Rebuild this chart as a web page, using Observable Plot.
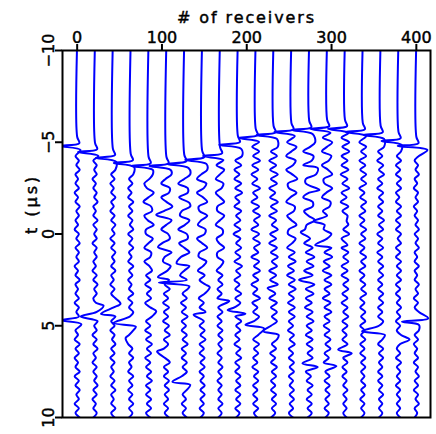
<!DOCTYPE html>
<html><head><meta charset="utf-8">
<script src="https://cdn.jsdelivr.net/npm/d3@7"></script>
<script src="https://cdn.jsdelivr.net/npm/@observablehq/plot@0.6"></script>
<style>html,body{margin:0;padding:0;background:#fff}#chart{position:absolute;left:0;top:0}</style>
</head><body><div id="chart"></div>
<script>
// receiver positions of the 20 traces
const receivers = [0,21.05,42.11,63.16,84.21,105.26,126.32,147.37,168.42,189.47,210.53,231.58,252.63,273.68,294.74,315.79,336.84,357.89,378.95,400];
// first-arrival time (μs) of each trace
const arrivals = [-4.80,-4.47,-4.15,-3.87,-3.71,-3.71,-3.82,-4.04,-4.25,-4.86,-5.24,-5.40,-5.56,-5.67,-5.73,-5.73,-5.56,-5.40,-5.07,-4.80];
// left-spike amplitude of the first arrival (receiver units)
const spikeAmp = [-20,-20,-20,-20,-20,-20,-20,-20,-20,-22,-20,-20,-20,-20,-20,-20,-20,-20,-20,-22];
// rebound after the spike
const reboundAmp = [4,4,4,4,5,5,5,5,4,4,4,4,4,4,4,4,4,4,4,13];
// pulse template: time offsets (μs)
const pulseDt = [-0.5,-0.15,0,0.22];
// wiggle samples, one per 0.25 μs starting at t = -5.5 μs (receiver units)
const gridStart = -5.5, gridStep = 0.25;
const w0  = [0,0,0,0,0,-2,2,-1,3,-2,1,-2,2,-3,1,-2,3,-1,2,-2,1,-3,2,-1,3,-2,2,-1,2,-3,1,-2,3,-2,1,-2,2,-3,2,-1,2,-3,2,-2,1,-3,3,-2,2,-3,1,-2,3,-3,2,-2,3,-1,2,-3,2,-2,3];
const w1  = [0,0,0,0,0,0,-2,2,-1,2,-3,1,-2,2,-1,3,-2,1,-2,3,-2,2,-1,2,-3,2,-1,2,-2,1,-3,2,-2,3,-1,2,-2,1,-3,2,-2,3,-1,2,-3,2,-2,3,-2,1,-3,2,-2,2,-1,3,-2,2,-3,1,-2,2,-2];
const w2  = [0,0,0,0,0,0,0,-2,3,-2,2,-3,1,-2,3,-2,1,-3,2,-2,3,-1,2,-3,2,-2,3,-1,2,-2,3,-2,1,-3,2,-2,3,-2,1,-2,3,-2,2,-3,2,-1,3,-2,2,-3,2,-2,1,-3,2,-2,3,-2,1,-2,3,-2,2];
const w3  = [0,0,0,0,0,0,0,0,-3,3,-2,2,-3,1,-3,3,-2,2,-3,2,-1,3,-3,2,-2,3,-2,1,-3,3,-2,2,-3,1,-2,3,-3,2,-2,3,-1,2,-3,3,-2,2,-3,2,-2,3,-2,1,-3,3,-2,2,-3,2,-2,3,-2,2,-2];
const w4  = [0,0,0,0,0,0,0,0,-4,5,1,-5,-2,6,0,-6,3,4,-5,-1,6,-3,-3,5,0,-5,3,2,-5,1,4,-3,2,-4,3,-2,3,-4,2,-3,4,-3,2,-4,3,-3,4,-2,3,-4,2,-3,3,-2,4,-3,2,-3,3,-2,3,-3,2];
const w5  = [0,0,0,0,0,0,0,0,-5,6,-1,-6,4,3,-6,0,7,-3,-4,6,0,-6,2,4,-5,-1,6,-2,-4,5,1,-4,3,-2,4,-3,2,-4,3,-3,2,-4,3,-2,4,-3,2,-3,3,-2,4,-3,2,-3,3,-2,3,-2,2,-3,2,-2,3];
const w6  = [0,0,0,0,0,0,0,0,-6,7,0,-7,4,4,-6,-1,7,-3,-5,6,1,-7,3,4,-6,0,6,-4,-3,6,0,-5,3,-3,4,-2,3,-4,2,-3,4,-3,2,-3,3,-2,4,-3,2,-3,3,-2,3,-3,2,-3,3,-2,2,-3,2,-2,3];
const w7  = [0,0,0,0,0,0,0,-5,6,-1,-6,5,2,-6,1,6,-4,-3,6,-1,-5,4,3,-6,0,6,-3,-4,5,1,-5,3,-3,4,-2,3,-4,2,-3,4,-3,2,-3,3,-2,4,-3,2,-3,3,-2,3,-3,2,-2,3,-2,3,-2,2,-3,2,-2];
const w8  = [0,0,0,0,0,0,0,-4,5,0,-5,4,2,-5,0,5,-3,-3,5,0,-5,3,3,-4,-1,5,-3,-3,4,1,-4,3,-2,3,-3,2,-3,3,-2,3,-3,2,-3,3,-2,3,-2,2,-3,2,-2,3,-2,2,-3,2,-2,2,-2,3,-2,2,-2];
const w9  = [0,0,0,0,-4,5,-3,4,-4,2,-4,4,-3,5,-3,2,-4,4,-2,3,-4,3,-5,3,-2,4,-3,3,-4,5,-2,3,-4,2,-3,4,-3,3,-4,2,-3,4,-2,3,-3,2,-4,3,-2,4,-3,2,-3,3,-2,3,-3,3,-2,3,-3,2,-2];
const w10 = [0,0,0,-4,4,-3,5,-4,3,-5,2,-4,5,-3,2,-5,4,-3,5,-2,3,-5,4,-3,5,-2,3,-5,4,-2,5,-3,3,-5,2,-3,5,-4,2,-3,4,-2,3,-4,3,-3,4,-2,3,-3,2,-4,3,-2,3,-3,2,-3,2,-3,3,-2,2];
const w11 = [0,0,-4,5,-3,4,-5,3,-4,5,-3,4,-5,2,-4,5,-3,4,-5,3,-2,5,-4,3,-5,4,-3,5,-2,4,-5,3,-4,5,-3,2,-5,4,-3,4,-2,4,-3,2,-4,4,-2,3,-4,2,-3,4,-2,3,-3,2,-3,3,-2,3,-2,2,-3];
const w12 = [0,0,-5,6,0,-6,5,2,-6,1,7,-4,-3,6,-1,-6,4,3,-5,0,6,-3,-4,5,1,-5,4,-3,5,-4,3,-5,4,-3,5,-3,3,-4,4,-3,4,-3,2,-4,3,-2,4,-3,2,-3,3,-2,3,-3,2,-2,3,-2,3,-2,2,-3,2];
const w13 = [0,-6,7,1,-7,5,3,-7,0,8,-4,-4,7,0,-7,4,4,-6,-1,7,-3,-5,6,1,-6,4,-4,6,-3,5,-6,4,-3,6,-4,5,-4,3,-5,4,-3,5,-3,3,-4,4,-3,4,-2,4,-3,3,-4,2,-3,4,-2,3,-3,3,-2,3,-2];
const w14 = [0,-5,6,0,-6,5,2,-6,1,6,-4,-3,6,-1,-6,4,3,-5,0,6,-3,-4,5,0,-5,5,-3,6,-4,3,-5,5,-3,5,-3,3,-5,4,-3,5,-3,3,-4,3,-3,4,-2,4,-3,2,-4,3,-2,3,-3,3,-2,3,-2,2,-3,2,-2];
const w15 = [0,-4,5,-3,5,-4,3,-4,4,-5,3,-3,5,-4,2,-5,4,-3,3,-4,4,-2,5,-4,3,-4,4,-2,4,-4,3,-4,4,-2,4,-3,3,-4,3,-2,4,-3,3,-3,2,-3,3,-3,3,-2,3,-3,2,-3,2,-2,3,-2,2,-2,2,-2,2];
const w16 = [0,0,-4,4,-2,4,-4,3,-3,4,-2,4,-4,2,-3,4,-2,3,-4,2,-3,4,-2,3,-4,2,-3,4,-2,3,-4,2,-3,3,-2,4,-3,2,-3,3,-2,3,-3,2,-2,3,-3,2,-3,3,-2,3,-2,2,-2,3,-2,2,-3,2,-2,2,-2];
const w17 = [0,0,-3,4,-3,2,-4,3,-2,4,-3,2,-4,3,-2,3,-3,2,-3,4,-2,3,-4,2,-3,3,-4,2,-3,3,-2,3,-3,2,-3,3,-2,3,-3,2,-3,3,-2,3,-3,2,-3,3,-2,3,-2,2,-3,2,-3,2,-2,3,-2,2,-2,2,-2];
const w18 = [0,0,0,-3,3,-2,3,-3,2,-3,3,-2,3,-3,1,-3,3,-2,3,-3,2,-3,3,-1,3,-3,2,-3,3,-2,3,-2,3,-3,2,-3,2,-2,3,-2,2,-3,2,-2,3,-2,2,-2,2,-3,3,-2,2,-2,2,-3,2,-2,2,-2,2,-2,2];
const w19 = [0,0,0,0,-2,3,-2,2,-1,3,-2,1,-3,2,-1,2,-3,1,-2,2,-1,3,-2,2,-1,3,-2,1,-2,3,-2,1,-2,3,-1,2,-3,2,-2,3,-2,2,-1,3,-2,2,-3,1,-2,2,-3,2,-1,3,-2,2,-3,2,-1,3,-2,1,-2];
const wiggles = [w0,w1,w2,w3,w4,w5,w6,w7,w8,w9,w10,w11,w12,w13,w14,w15,w16,w17,w18,w19];
// strong later events: [trace, t (μs), amplitude]
const events = [
  [0,4.70,-19],[0,4.92,5],
  [1,3.90,10],[1,4.50,-17],
  [2,3.80,9],[2,4.35,-14],
  [3,4.85,-20],[3,5.05,6],[3,5.67,-6],
  [4,4.20,9],
  [5,-1.04,-12],[5,0.71,-10],[5,2.35,-10],[5,6.40,-11],
  [6,-1.70,6],[6,1.60,-9],[6,2.65,-30],[6,2.85,6],[6,8.06,-14],[6,8.22,7],
  [7,2.90,9],[7,4.40,-10],
  [8,3.65,11],
  [9,4.15,-12],[9,4.35,9],
  [10,4.95,-12],[10,5.15,10],
  [11,2.95,-7],[11,5.30,-12],[11,5.50,6],
  [13,-3.60,10],[13,-2.40,12],[13,-0.10,-10],[13,2.50,-12],[13,7.05,-8],[13,7.25,10],
  [14,-0.70,-16],[14,0.60,-14],[14,7.20,11],
  [15,-0.70,2],[15,0.60,3],[15,6.30,-8],[15,6.50,8],
  [17,5.30,-22],[17,5.50,5],
  [18,5.75,13],
  [19,4.60,14],[19,4.78,-17],[19,4.95,3]
];

const rows = [];
receivers.forEach((r, i) => {
  const t0 = arrivals[i];
  const ev = events.filter(e => e[0] === i).map(e => [e[1], e[2]]);
  const knots = [[-10.5, 0], [t0 + pulseDt[0], 0], [t0 + pulseDt[1], 2.5], [t0 + pulseDt[2], spikeAmp[i]], [t0 + pulseDt[3], reboundAmp[i]]];
  wiggles[i].forEach((a, k) => {
    const t = gridStart + gridStep * k;
    if (t < t0 + 0.45) return;
    if (ev.some(e => Math.abs(e[0] - t) < 0.14)) return;
    knots.push([t, a]);
  });
  ev.forEach(e => knots.push(e));
  knots.sort((a, b) => a[0] - b[0]);
  knots.forEach(([t, a]) => rows.push({trace: i, x: r + a, t}));
});

const chart = Plot.plot({
  width: 436, height: 434,
  marginLeft: 62, marginRight: 6, marginTop: 50, marginBottom: 17,
  style: "font-family: 'DejaVu Sans', sans-serif; font-size: 16px; background: white; overflow: visible;",
  x: {domain: [-17.3, 416.7], axis: null},
  y: {domain: [-10, 10], reverse: true, axis: null},
  marks: [
    Plot.line(rows, {x: "x", y: "t", z: "trace", stroke: "#0000ff", strokeWidth: 2, curve: "catmull-rom", clip: true}),
    Plot.frame({stroke: "black", strokeWidth: 2}),
    Plot.axisX({anchor: "top", ticks: [0, 100, 200, 300, 400], tickSize: 7, tickPadding: 1, strokeWidth: 2, fontSize: 16, label: null}),
    Plot.axisY({anchor: "left", ticks: [-10, -5, 0, 5, 10], tickSize: 7, tickPadding: 2, tickRotate: -90, strokeWidth: 2, fontSize: 16, label: null}),
    Plot.text(["# of receivers"], {frameAnchor: "top", dy: -39, fontSize: 16, fill: "black"}),
    Plot.text(["t (μs)"], {frameAnchor: "left", dx: -31, rotate: -90, fontSize: 16, fill: "black"})
  ]
});
// slightly heavier glyphs and wider tracking, as in the reference
d3.select(chart).selectAll("text")
  .attr("stroke", "black").attr("stroke-width", 0.45).attr("paint-order", "stroke");
d3.select(chart).selectAll("text").filter(function () { return this.textContent === "# of receivers"; })
  .style("letter-spacing", "1.9px");
d3.select(chart).selectAll("text").filter(function () { return this.textContent === "t (μs)"; })
  .style("letter-spacing", "3px");
document.getElementById("chart").appendChild(chart);
</script>
</body></html>
